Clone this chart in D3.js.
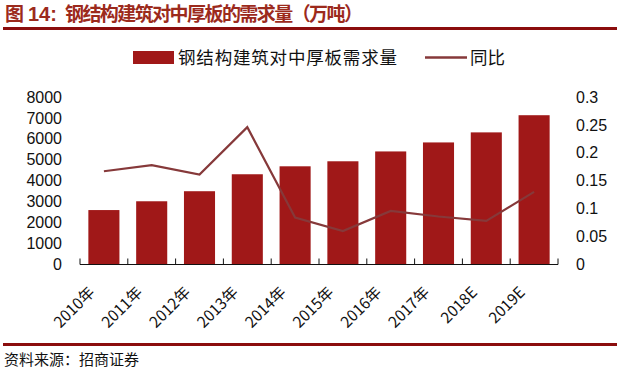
<!DOCTYPE html>
<html>
<head>
<meta charset="utf-8">
<script src="https://cdn.jsdelivr.net/npm/d3@7"></script>
<style>
  body { margin: 0; background: #fff; }
  svg { display: block; }
  text { font-family: "Liberation Sans", Arial, sans-serif; }
  .cjk { font-family: "Noto Sans CJK SC", sans-serif; }
</style>
</head>
<body>
<div id="chart"></div>
<script>
const years = ["2010年", "2011年", "2012年", "2013年", "2014年", "2015年", "2016年", "2017年", "2018E", "2019E"];
const demand = [2600, 3020, 3500, 4310, 4690, 4930, 5400, 5830, 6310, 7130];
const yoy = [0.167, 0.178, 0.161, 0.246, 0.084, 0.060, 0.096, 0.086, 0.078, 0.130];
const leftTicks = [0, 1000, 2000, 3000, 4000, 5000, 6000, 7000, 8000];
const rightTicks = [0, 0.05, 0.1, 0.15, 0.2, 0.25, 0.3];

const W = 620, H = 372;
const barColor = "#a01818", lineColor = "#86393a", titleColor = "#9c2a1c", ruleColor = "#8b0d0d";

const svg = d3.select("#chart").append("svg")
    .attr("width", W)
    .attr("height", H);

// title + rules
svg.append("text")
    .attr("x", 5).attr("y", 21)
    .attr("fill", titleColor)
    .attr("font-size", 19)
    .attr("font-weight", "bold")
    .attr("class", "cjk")
    .text("图");
svg.append("text")
    .attr("x", 28).attr("y", 21)
    .attr("fill", titleColor)
    .attr("font-size", 20)
    .attr("font-weight", "bold")
    .text("14:");
svg.append("text")
    .attr("x", 65).attr("y", 21)
    .attr("fill", titleColor)
    .attr("font-size", 19)
    .attr("font-weight", "bold")
    .attr("class", "cjk")
    .attr("textLength", 298)
    .attr("lengthAdjust", "spacing")
    .text("钢结构建筑对中厚板的需求量（万吨）");

svg.append("rect").attr("x", 3).attr("y", 27).attr("width", 614).attr("height", 3).attr("fill", ruleColor);
svg.append("rect").attr("x", 3).attr("y", 343).attr("width", 614).attr("height", 3).attr("fill", ruleColor);

svg.append("text")
    .attr("x", 4).attr("y", 365)
    .attr("font-size", 15)
    .attr("fill", "#111")
    .attr("class", "cjk")
    .text("资料来源：招商证券");

// plot area
const pLeft = 80, pRight = 558, pTop = 97, pBottom = 264.5;

const x = d3.scaleBand()
    .domain(years)
    .range([pLeft, pRight])
    .paddingInner(0.35)
    .paddingOuter(0.175);

const y = d3.scaleLinear().domain([0, 8000]).range([pBottom, pTop]);
const y2 = d3.scaleLinear().domain([0, 0.3]).range([pBottom, pTop]);

svg.append("g")
    .selectAll("rect")
    .data(demand)
    .enter().append("rect")
    .attr("x", (d, i) => x(years[i]))
    .attr("y", d => y(d))
    .attr("width", x.bandwidth())
    .attr("height", d => y(0) - y(d))
    .attr("fill", barColor);

const line = d3.line()
    .x((d, i) => x(years[i]) + x.bandwidth() / 2)
    .y(d => y2(d));

svg.append("path")
    .datum(yoy)
    .attr("d", line)
    .attr("fill", "none")
    .attr("stroke", lineColor)
    .attr("stroke-width", 2.2);

// left axis labels
svg.append("g")
    .selectAll("text")
    .data(leftTicks)
    .enter().append("text")
    .attr("x", 62)
    .attr("y", d => y(d))
    .attr("dy", "0.35em")
    .attr("text-anchor", "end")
    .attr("font-size", 16)
    .attr("fill", "#111")
    .text(d => d);

// right axis labels
svg.append("g")
    .selectAll("text")
    .data(rightTicks)
    .enter().append("text")
    .attr("x", 576)
    .attr("y", d => y2(d))
    .attr("dy", "0.35em")
    .attr("font-size", 16)
    .attr("fill", "#111")
    .text(d => d3.format("~g")(d));

// x axis: baseline with ticks pointing up at band edges
const step = x.step();
const edges = d3.range(years.length + 1).map(i => pLeft + i * step);
const xa = svg.append("g");
xa.append("line")
    .attr("x1", pLeft).attr("x2", pRight)
    .attr("y1", pBottom).attr("y2", pBottom)
    .attr("stroke", "#111").attr("stroke-width", 1.2);
xa.selectAll(".tk")
    .data(edges)
    .enter().append("line")
    .attr("x1", d => d).attr("x2", d => d)
    .attr("y1", pBottom).attr("y2", pBottom - 6)
    .attr("stroke", "#111").attr("stroke-width", 1);

xa.selectAll(".lbl")
    .data(years)
    .enter().append("text")
    .attr("class", "cjk")
    .attr("transform", d => `translate(${x(d) + x.bandwidth() / 2 - 12},${pBottom + 25}) rotate(-45)`)
    .attr("text-anchor", "end")
    .attr("dy", "0.35em")
    .attr("font-size", 15.5)
    .attr("fill", "#111")
    .text(d => d);

// legend
const lg = svg.append("g");
lg.append("rect").attr("x", 133).attr("y", 51).attr("width", 41).attr("height", 13).attr("fill", barColor);
lg.append("text").attr("class", "cjk").attr("x", 178).attr("y", 64).attr("font-size", 17.5).attr("fill", "#111")
    .attr("textLength", 219).attr("lengthAdjust", "spacing")
    .text("钢结构建筑对中厚板需求量");
lg.append("line").attr("x1", 425).attr("x2", 467).attr("y1", 57.5).attr("y2", 57.5)
    .attr("stroke", lineColor).attr("stroke-width", 2.5);
lg.append("text").attr("class", "cjk").attr("x", 470).attr("y", 64).attr("font-size", 17.5).attr("fill", "#111")
    .text("同比");
</script>
</body>
</html>
